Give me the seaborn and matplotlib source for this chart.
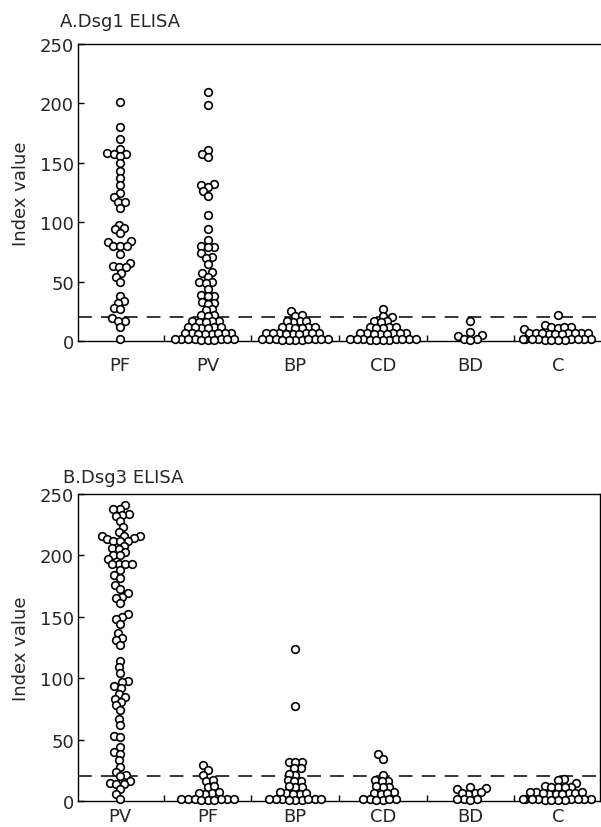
import warnings
warnings.filterwarnings("ignore")
import numpy as np
import pandas as pd
import matplotlib
matplotlib.use("Agg")
import matplotlib.pyplot as plt
import seaborn as sns

# ---------------- Data ----------------
cats_a = ["PF", "PV", "BP", "CD", "BD", "C"]
cats_b = ["PV", "PF", "BP", "CD", "BD", "C"]

a_pf = [201, 180, 170, 162, 158, 157, 157, 156, 150, 143, 137, 131, 125, 121, 117, 117,
        112, 98, 95, 94, 91, 84, 83, 80, 80, 80, 73, 66, 63, 62, 62, 57, 54, 50, 38, 34,
        32, 28, 27, 19, 17, 17, 12, 2]
a_pv = [210, 199, 161, 157, 155, 132, 131, 130, 126, 122, 106, 94, 85, 80, 79, 79, 74, 71,
        70, 65, 58, 57, 54, 50, 50, 49, 44, 39, 38, 38, 33, 32, 31, 27, 26,
        21.5, 22, 21, 16.5, 16, 17, 16.5, 16, 11.5, 11, 12, 11.5, 11, 12,
        6.5, 6, 7, 6.5, 6, 7, 6.5, 6, 1.5, 1.2, 1.8, 1.5, 1.2, 1.8, 1.5, 1.2, 1.8, 1.5]
a_bp = [25, 21, 22, 16.5, 16, 17, 16.5, 11.5, 11, 12, 11.5, 11, 12,
        6.5, 6, 7, 6.5, 6, 7, 6.5, 6, 7,
        1.5, 1.2, 1.8, 1.5, 1.2, 1.8, 1.5, 1.2, 1.8, 1.5, 1.2]
a_cd = [27, 21, 20.5, 16.5, 17, 16, 11.5, 11, 12, 11.5, 11,
        6.5, 6, 7, 6.5, 6, 7, 6.5, 6,
        1.5, 1.2, 1.8, 1.5, 1.2, 1.8, 1.5, 1.2, 1.8, 1.5, 1.2]
a_bd = [16.5, 7.5, 5, 4, 1.5, 1.5, 1.2]
a_c = [22, 13.5, 11.5, 11, 12, 11.5, 10.5,
       6.5, 6, 7, 6.5, 6, 7, 6.5, 6, 7, 6.5,
       1.5, 1.2, 1.8, 1.5, 1.2, 1.8, 1.5, 1.2, 1.8, 1.5, 1.2, 1.8]

b_pv = [241, 238, 238, 234, 233, 232, 228, 223, 219, 216, 216, 216, 214, 213, 212, 212, 212,
        208, 206, 205, 203, 200, 200, 197, 193, 193, 193, 193, 188, 184, 182, 176, 173, 169,
        166, 165, 161, 152, 150, 148, 144, 137, 133, 131, 127, 114, 109, 104, 98, 97, 94, 92,
        87, 85, 83, 81, 78, 74, 67, 62, 53, 52, 44, 40, 38, 33, 28, 24, 21, 20, 16, 15, 14,
        14, 10, 6, 2]
b_pf = [29, 25.5, 21, 16.5, 17, 11.5, 12, 6.5, 6, 7, 6.5,
        1.5, 1.2, 1.8, 1.5, 1.2, 1.8, 1.5, 1.2, 1.8]
b_bp = [124, 77, 32, 32, 31.5, 27, 26.5, 21.5, 22, 16.5, 17, 16, 11.5, 11, 12,
        6.5, 6, 7, 6.5, 6, 1.5, 1.2, 1.8, 1.5, 1.2, 1.8, 1.5, 1.2, 1.8]
b_cd = [38, 34.5, 21, 16.5, 17, 16, 11.5, 11, 12, 6.5, 6, 7, 6.5,
        1.5, 1.2, 1.8, 1.5, 1.2, 1.8]
b_bd = [11, 10.5, 10, 6.5, 6, 7, 6.5, 1.5, 1.5, 1.2, 1.8]
b_c = [18, 17.5, 14.5, 11.5, 11, 12, 11.5, 11,
       6.5, 6, 7, 6.5, 6, 7, 6.5, 6, 7,
       1.5, 1.2, 1.8, 1.5, 1.2, 1.8, 1.5, 1.2, 1.8, 1.5, 1.2, 1.8]

titles = ["A.Dsg1 ELISA", "B.Dsg3 ELISA"]
ylabel = "Index value"
yticks = [0, 50, 100, 150, 200, 250]
cutoff = 20


def frame(cats, groups):
    rows = []
    for c, g in zip(cats, groups):
        for v in g:
            rows.append((c, v))
    return pd.DataFrame(rows, columns=["group", "value"])


df_a = frame(cats_a, [a_pf, a_pv, a_bp, a_cd, a_bd, a_c])
df_b = frame(cats_b, [b_pv, b_pf, b_bp, b_cd, b_bd, b_c])

# ---------------- Plot ----------------
sns.set_style("white")
plt.rcParams["font.family"] = ["DejaVu Sans"]
plt.rcParams["font.size"] = 13

W, H = 601, 828
fig = plt.figure(figsize=(W / 100, H / 100), dpi=100)

left = 78 / W
width = (600 - 78) / W
ax_a = fig.add_axes([left, 1 - 342 / H, width, (342 - 45) / H])
ax_b = fig.add_axes([left, 1 - 802 / H, width, (802 - 495) / H])

LAYOUT_SIZE = 4.5      # marker size used by the swarm layout
SHOW_SIZE = 5.5        # marker size shown
SHOW_LW = 1.2

for ax, df, cats, title, xpad, (tx, ty) in [
    (ax_a, df_a, cats_a, titles[0], 11, (60, 27)),
    (ax_b, df_b, cats_b, titles[1], 4, (63, 483)),
]:
    sns.swarmplot(data=df, x="group", y="value", order=cats, color="white",
                  edgecolor="black", linewidth=0, size=LAYOUT_SIZE, ax=ax)
    ax.axhline(cutoff, color="black", lw=1.1, linestyle=(0, (9, 6)), zorder=2)
    ax.set_xlim(-0.48, 5.48)
    ax.set_ylim(0, 250)
    ax.set_yticks(yticks)
    ax.set_xticks(range(len(cats)))
    ax.set_xticklabels(cats)
    ax.set_xticks([i + 0.5 for i in range(len(cats) - 1)], minor=True)
    ax.tick_params(axis="x", which="major", length=0, pad=xpad, labelsize=13)
    ax.tick_params(axis="x", which="minor", direction="in", length=4, width=1.0,
                   bottom=True, color="black")
    ax.tick_params(axis="y", direction="in", length=4, width=1.0, pad=3,
                   labelsize=13, left=True, color="black")
    ax.set_xlabel("")
    ax.set_ylabel(ylabel, fontsize=13, labelpad=7)
    for s in ax.spines.values():
        s.set_linewidth(1.0)
        s.set_color("black")
    fig.text(tx / W, 1 - ty / H, title, ha="left", va="baseline", fontsize=13)

ax_a.spines["right"].set_visible(False)

# run the seaborn swarm layout once, then freeze positions and restyle markers
fig.canvas.draw()
for ax in (ax_a, ax_b):
    for coll in ax.collections:
        if "draw" in coll.__dict__:
            del coll.__dict__["draw"]
        coll.set_sizes([SHOW_SIZE ** 2])
        coll.set_linewidth(SHOW_LW)
        coll.set_edgecolor("black")
        coll.set_facecolor("white")
        coll.set_clip_on(False)
        coll.set_zorder(3)

fig.savefig("out.png", dpi=100)
